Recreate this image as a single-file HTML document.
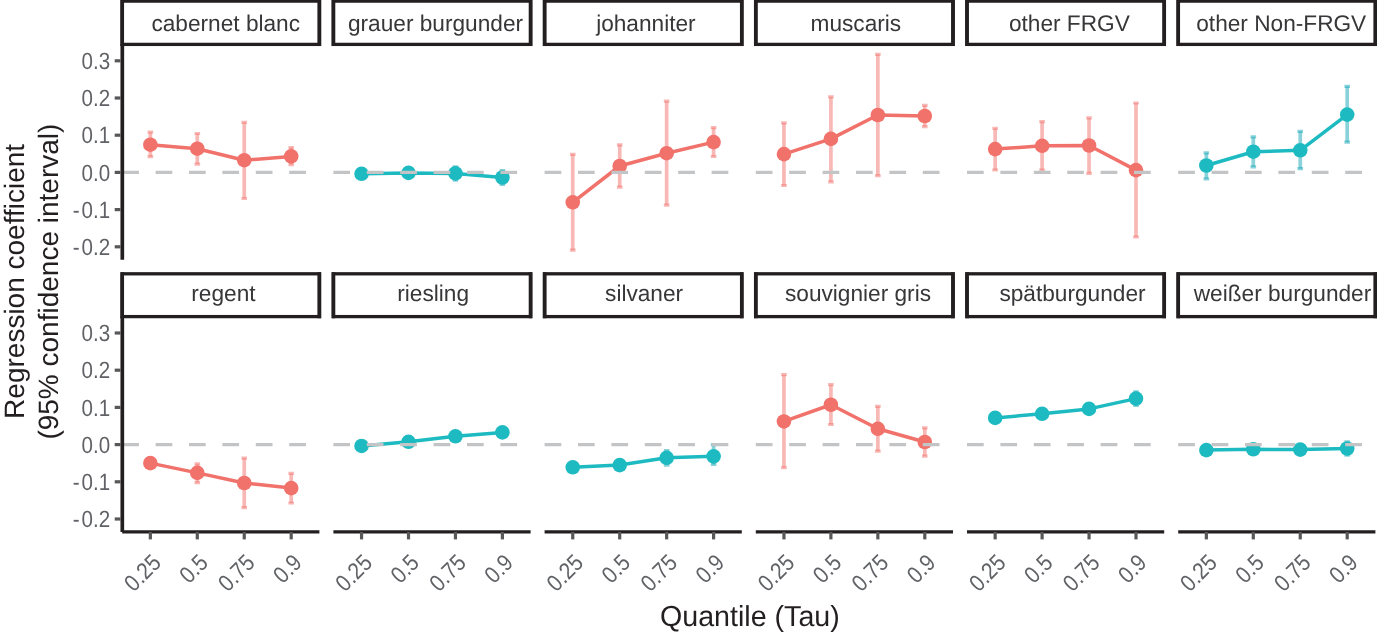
<!DOCTYPE html><html><head><meta charset="utf-8"><title>chart</title><style>
html,body{margin:0;padding:0;background:#fff;}body{width:1377px;height:635px;overflow:hidden;}
svg{display:block;will-change:transform;font-family:"Liberation Sans",sans-serif;text-rendering:geometricPrecision;}
.ax{fill:#606266;font-size:21.33px;}.st{fill:#373739;font-size:22.67px;}.ti{fill:#231F20;font-size:28px;}
</style></head><body>
<svg width="1377" height="635" viewBox="0 0 1377 635">
<rect width="1377" height="635" fill="#fff"/>
<g>
<g stroke="#F1716B" stroke-opacity="0.5" stroke-width="3.7" fill="none"><path d="M150.35 132.20V156.70"/><path d="M147.55 132.20H153.15M147.55 156.70H153.15" stroke-width="3.2"/></g>
<g stroke="#F1716B" stroke-opacity="0.5" stroke-width="3.7" fill="none"><path d="M197.30 133.50V164.20"/><path d="M194.50 133.50H200.10M194.50 164.20H200.10" stroke-width="3.2"/></g>
<g stroke="#F1716B" stroke-opacity="0.5" stroke-width="3.7" fill="none"><path d="M244.25 122.30V198.50"/><path d="M241.45 122.30H247.05M241.45 198.50H247.05" stroke-width="3.2"/></g>
<g stroke="#F1716B" stroke-opacity="0.5" stroke-width="3.7" fill="none"><path d="M291.20 147.50V164.60"/><path d="M288.40 147.50H294.00M288.40 164.60H294.00" stroke-width="3.2"/></g>
<polyline points="150.35,144.70 197.30,148.70 244.25,160.20 291.20,156.40" fill="none" stroke="#F1716B" stroke-width="3.5" stroke-linejoin="round"/>
<circle cx="150.35" cy="144.70" r="7.3" fill="#F1716B"/>
<circle cx="197.30" cy="148.70" r="7.3" fill="#F1716B"/>
<circle cx="244.25" cy="160.20" r="7.3" fill="#F1716B"/>
<circle cx="291.20" cy="156.40" r="7.3" fill="#F1716B"/>
<path d="M122.20 172.40H319.40" stroke="#C3C4C6" stroke-width="3.2" stroke-dasharray="16.7 16.7" fill="none"/>
<rect x="122.20" y="1.10" width="197.20" height="43.30" fill="#fff" stroke="#231F20" stroke-width="3.3"/>
<path d="M122.20 -0.55V46.05M319.40 -0.55V46.05" stroke="#231F20" stroke-width="3.7" fill="none"/>
<text class="st" x="225.75" y="30.90" text-anchor="middle">cabernet blanc</text>
</g>
<g>
<g stroke="#13A5B5" stroke-opacity="0.5" stroke-width="3.7" fill="none"><path d="M455.45 166.90V180.20"/><path d="M452.65 166.90H458.25M452.65 180.20H458.25" stroke-width="3.2"/></g>
<g stroke="#13A5B5" stroke-opacity="0.5" stroke-width="3.7" fill="none"><path d="M502.40 170.60V184.40"/><path d="M499.60 170.60H505.20M499.60 184.40H505.20" stroke-width="3.2"/></g>
<polyline points="361.55,173.80 408.50,172.90 455.45,173.40 502.40,177.50" fill="none" stroke="#1DBBC1" stroke-width="3.5" stroke-linejoin="round"/>
<circle cx="361.55" cy="173.80" r="7.3" fill="#1DBBC1"/>
<circle cx="408.50" cy="172.90" r="7.3" fill="#1DBBC1"/>
<circle cx="455.45" cy="173.40" r="7.3" fill="#1DBBC1"/>
<circle cx="502.40" cy="177.50" r="7.3" fill="#1DBBC1"/>
<path d="M333.40 172.40H530.60" stroke="#C3C4C6" stroke-width="3.2" stroke-dasharray="16.7 16.7" fill="none"/>
<rect x="333.40" y="1.10" width="197.20" height="43.30" fill="#fff" stroke="#231F20" stroke-width="3.3"/>
<path d="M333.40 -0.55V46.05M530.60 -0.55V46.05" stroke="#231F20" stroke-width="3.7" fill="none"/>
<text class="st" x="435.50" y="30.90" text-anchor="middle">grauer burgunder</text>
</g>
<g>
<g stroke="#F1716B" stroke-opacity="0.5" stroke-width="3.7" fill="none"><path d="M572.75 154.30V250.20"/><path d="M569.95 154.30H575.55M569.95 250.20H575.55" stroke-width="3.2"/></g>
<g stroke="#F1716B" stroke-opacity="0.5" stroke-width="3.7" fill="none"><path d="M619.70 144.80V187.20"/><path d="M616.90 144.80H622.50M616.90 187.20H622.50" stroke-width="3.2"/></g>
<g stroke="#F1716B" stroke-opacity="0.5" stroke-width="3.7" fill="none"><path d="M666.65 101.20V205.10"/><path d="M663.85 101.20H669.45M663.85 205.10H669.45" stroke-width="3.2"/></g>
<g stroke="#F1716B" stroke-opacity="0.5" stroke-width="3.7" fill="none"><path d="M713.60 127.60V156.50"/><path d="M710.80 127.60H716.40M710.80 156.50H716.40" stroke-width="3.2"/></g>
<polyline points="572.75,202.30 619.70,166.00 666.65,153.20 713.60,142.10" fill="none" stroke="#F1716B" stroke-width="3.5" stroke-linejoin="round"/>
<circle cx="572.75" cy="202.30" r="7.3" fill="#F1716B"/>
<circle cx="619.70" cy="166.00" r="7.3" fill="#F1716B"/>
<circle cx="666.65" cy="153.20" r="7.3" fill="#F1716B"/>
<circle cx="713.60" cy="142.10" r="7.3" fill="#F1716B"/>
<path d="M544.60 172.40H741.80" stroke="#C3C4C6" stroke-width="3.2" stroke-dasharray="16.7 16.7" fill="none"/>
<rect x="544.60" y="1.10" width="197.20" height="43.30" fill="#fff" stroke="#231F20" stroke-width="3.3"/>
<path d="M544.60 -0.55V46.05M741.80 -0.55V46.05" stroke="#231F20" stroke-width="3.7" fill="none"/>
<text class="st" x="645.90" y="30.90" text-anchor="middle">johanniter</text>
</g>
<g>
<g stroke="#F1716B" stroke-opacity="0.5" stroke-width="3.7" fill="none"><path d="M783.95 122.80V185.50"/><path d="M781.15 122.80H786.75M781.15 185.50H786.75" stroke-width="3.2"/></g>
<g stroke="#F1716B" stroke-opacity="0.5" stroke-width="3.7" fill="none"><path d="M830.90 96.80V181.80"/><path d="M828.10 96.80H833.70M828.10 181.80H833.70" stroke-width="3.2"/></g>
<g stroke="#F1716B" stroke-opacity="0.5" stroke-width="3.7" fill="none"><path d="M877.85 54.40V175.60"/><path d="M875.05 54.40H880.65M875.05 175.60H880.65" stroke-width="3.2"/></g>
<g stroke="#F1716B" stroke-opacity="0.5" stroke-width="3.7" fill="none"><path d="M924.80 105.40V126.60"/><path d="M922.00 105.40H927.60M922.00 126.60H927.60" stroke-width="3.2"/></g>
<polyline points="783.95,154.10 830.90,138.90 877.85,115.00 924.80,116.00" fill="none" stroke="#F1716B" stroke-width="3.5" stroke-linejoin="round"/>
<circle cx="783.95" cy="154.10" r="7.3" fill="#F1716B"/>
<circle cx="830.90" cy="138.90" r="7.3" fill="#F1716B"/>
<circle cx="877.85" cy="115.00" r="7.3" fill="#F1716B"/>
<circle cx="924.80" cy="116.00" r="7.3" fill="#F1716B"/>
<path d="M755.80 172.40H953.00" stroke="#C3C4C6" stroke-width="3.2" stroke-dasharray="16.7 16.7" fill="none"/>
<rect x="755.80" y="1.10" width="197.20" height="43.30" fill="#fff" stroke="#231F20" stroke-width="3.3"/>
<path d="M755.80 -0.55V46.05M953.00 -0.55V46.05" stroke="#231F20" stroke-width="3.7" fill="none"/>
<text class="st" x="855.85" y="30.90" text-anchor="middle">muscaris</text>
</g>
<g>
<g stroke="#F1716B" stroke-opacity="0.5" stroke-width="3.7" fill="none"><path d="M995.15 128.30V170.00"/><path d="M992.35 128.30H997.95M992.35 170.00H997.95" stroke-width="3.2"/></g>
<g stroke="#F1716B" stroke-opacity="0.5" stroke-width="3.7" fill="none"><path d="M1042.10 121.60V170.20"/><path d="M1039.30 121.60H1044.90M1039.30 170.20H1044.90" stroke-width="3.2"/></g>
<g stroke="#F1716B" stroke-opacity="0.5" stroke-width="3.7" fill="none"><path d="M1089.05 117.90V173.30"/><path d="M1086.25 117.90H1091.85M1086.25 173.30H1091.85" stroke-width="3.2"/></g>
<g stroke="#F1716B" stroke-opacity="0.5" stroke-width="3.7" fill="none"><path d="M1136.00 103.00V237.00"/><path d="M1133.20 103.00H1138.80M1133.20 237.00H1138.80" stroke-width="3.2"/></g>
<polyline points="995.15,149.10 1042.10,145.80 1089.05,145.50 1136.00,170.10" fill="none" stroke="#F1716B" stroke-width="3.5" stroke-linejoin="round"/>
<circle cx="995.15" cy="149.10" r="7.3" fill="#F1716B"/>
<circle cx="1042.10" cy="145.80" r="7.3" fill="#F1716B"/>
<circle cx="1089.05" cy="145.50" r="7.3" fill="#F1716B"/>
<circle cx="1136.00" cy="170.10" r="7.3" fill="#F1716B"/>
<path d="M967.00 172.40H1164.20" stroke="#C3C4C6" stroke-width="3.2" stroke-dasharray="16.7 16.7" fill="none"/>
<rect x="967.00" y="1.10" width="197.20" height="43.30" fill="#fff" stroke="#231F20" stroke-width="3.3"/>
<path d="M967.00 -0.55V46.05M1164.20 -0.55V46.05" stroke="#231F20" stroke-width="3.7" fill="none"/>
<text class="st" x="1069.35" y="30.90" text-anchor="middle">other FRGV</text>
</g>
<g>
<g stroke="#13A5B5" stroke-opacity="0.5" stroke-width="3.7" fill="none"><path d="M1206.35 152.80V178.80"/><path d="M1203.55 152.80H1209.15M1203.55 178.80H1209.15" stroke-width="3.2"/></g>
<g stroke="#13A5B5" stroke-opacity="0.5" stroke-width="3.7" fill="none"><path d="M1253.30 136.80V166.90"/><path d="M1250.50 136.80H1256.10M1250.50 166.90H1256.10" stroke-width="3.2"/></g>
<g stroke="#13A5B5" stroke-opacity="0.5" stroke-width="3.7" fill="none"><path d="M1300.25 131.30V168.70"/><path d="M1297.45 131.30H1303.05M1297.45 168.70H1303.05" stroke-width="3.2"/></g>
<g stroke="#13A5B5" stroke-opacity="0.5" stroke-width="3.7" fill="none"><path d="M1347.20 86.40V142.10"/><path d="M1344.40 86.40H1350.00M1344.40 142.10H1350.00" stroke-width="3.2"/></g>
<polyline points="1206.35,165.50 1253.30,151.70 1300.25,150.30 1347.20,114.60" fill="none" stroke="#1DBBC1" stroke-width="3.5" stroke-linejoin="round"/>
<circle cx="1206.35" cy="165.50" r="7.3" fill="#1DBBC1"/>
<circle cx="1253.30" cy="151.70" r="7.3" fill="#1DBBC1"/>
<circle cx="1300.25" cy="150.30" r="7.3" fill="#1DBBC1"/>
<circle cx="1347.20" cy="114.60" r="7.3" fill="#1DBBC1"/>
<path d="M1178.20 172.40H1375.40" stroke="#C3C4C6" stroke-width="3.2" stroke-dasharray="16.7 16.7" fill="none"/>
<rect x="1178.20" y="1.10" width="197.20" height="43.30" fill="#fff" stroke="#231F20" stroke-width="3.3"/>
<path d="M1178.20 -0.55V46.05M1375.40 -0.55V46.05" stroke="#231F20" stroke-width="3.7" fill="none"/>
<text class="st" x="1281.25" y="30.90" text-anchor="middle">other Non-FRGV</text>
</g>
<path d="M122.30 44.40V259.70" stroke="#231F20" stroke-width="3.7"/>
<path d="M120.60 60.80h-5.90" stroke="#58585B" stroke-width="3.2"/>
<text class="ax" text-anchor="end" transform="translate(110.2 68.90) scale(0.965 1.1)">0.3</text>
<path d="M120.60 98.00h-5.90" stroke="#58585B" stroke-width="3.2"/>
<text class="ax" text-anchor="end" transform="translate(110.2 106.10) scale(0.965 1.1)">0.2</text>
<path d="M120.60 135.20h-5.90" stroke="#58585B" stroke-width="3.2"/>
<text class="ax" text-anchor="end" transform="translate(110.2 143.30) scale(0.965 1.1)">0.1</text>
<path d="M120.60 172.40h-5.90" stroke="#58585B" stroke-width="3.2"/>
<text class="ax" text-anchor="end" transform="translate(110.2 180.50) scale(0.965 1.1)">0.0</text>
<path d="M120.60 209.60h-5.90" stroke="#58585B" stroke-width="3.2"/>
<text class="ax" text-anchor="end" transform="translate(110.2 217.70) scale(0.965 1.1)">-<tspan dx="2.1">0.1</tspan></text>
<path d="M120.60 246.80h-5.90" stroke="#58585B" stroke-width="3.2"/>
<text class="ax" text-anchor="end" transform="translate(110.2 254.90) scale(0.965 1.1)">-<tspan dx="2.1">0.2</tspan></text>
<g>
<g stroke="#F1716B" stroke-opacity="0.5" stroke-width="3.7" fill="none"><path d="M197.30 463.80V482.60"/><path d="M194.50 463.80H200.10M194.50 482.60H200.10" stroke-width="3.2"/></g>
<g stroke="#F1716B" stroke-opacity="0.5" stroke-width="3.7" fill="none"><path d="M244.25 458.10V507.70"/><path d="M241.45 458.10H247.05M241.45 507.70H247.05" stroke-width="3.2"/></g>
<g stroke="#F1716B" stroke-opacity="0.5" stroke-width="3.7" fill="none"><path d="M291.20 473.40V503.00"/><path d="M288.40 473.40H294.00M288.40 503.00H294.00" stroke-width="3.2"/></g>
<polyline points="150.35,463.10 197.30,472.90 244.25,483.00 291.20,488.10" fill="none" stroke="#F1716B" stroke-width="3.5" stroke-linejoin="round"/>
<circle cx="150.35" cy="463.10" r="7.3" fill="#F1716B"/>
<circle cx="197.30" cy="472.90" r="7.3" fill="#F1716B"/>
<circle cx="244.25" cy="483.00" r="7.3" fill="#F1716B"/>
<circle cx="291.20" cy="488.10" r="7.3" fill="#F1716B"/>
<path d="M122.20 444.60H319.40" stroke="#C3C4C6" stroke-width="3.2" stroke-dasharray="16.7 16.7" fill="none"/>
<rect x="122.20" y="273.80" width="197.20" height="42.80" fill="#fff" stroke="#231F20" stroke-width="3.3"/>
<path d="M122.20 272.15V318.25M319.40 272.15V318.25" stroke="#231F20" stroke-width="3.7" fill="none"/>
<text class="st" x="223.45" y="301.05" text-anchor="middle">regent</text>
<path d="M122.20 531.90H319.40" stroke="#231F20" stroke-width="3.3"/>
<path d="M150.35 531.90v7.50" stroke="#58585B" stroke-width="3.2"/>
<text class="ax" text-anchor="end" transform="translate(150.65 552.50) rotate(-45) scale(0.97 1.1)" y="15.0">0.25</text>
<path d="M197.30 531.90v7.50" stroke="#58585B" stroke-width="3.2"/>
<text class="ax" text-anchor="end" transform="translate(197.60 552.50) rotate(-45) scale(0.97 1.1)" y="15.0">0.5</text>
<path d="M244.25 531.90v7.50" stroke="#58585B" stroke-width="3.2"/>
<text class="ax" text-anchor="end" transform="translate(244.55 552.50) rotate(-45) scale(0.97 1.1)" y="15.0">0.75</text>
<path d="M291.20 531.90v7.50" stroke="#58585B" stroke-width="3.2"/>
<text class="ax" text-anchor="end" transform="translate(291.50 552.50) rotate(-45) scale(0.97 1.1)" y="15.0">0.9</text>
</g>
<g>
<polyline points="361.55,445.95 408.50,441.80 455.45,436.30 502.40,432.40" fill="none" stroke="#1DBBC1" stroke-width="3.5" stroke-linejoin="round"/>
<circle cx="361.55" cy="445.95" r="7.3" fill="#1DBBC1"/>
<circle cx="408.50" cy="441.80" r="7.3" fill="#1DBBC1"/>
<circle cx="455.45" cy="436.30" r="7.3" fill="#1DBBC1"/>
<circle cx="502.40" cy="432.40" r="7.3" fill="#1DBBC1"/>
<path d="M333.40 444.60H530.60" stroke="#C3C4C6" stroke-width="3.2" stroke-dasharray="16.7 16.7" fill="none"/>
<rect x="333.40" y="273.80" width="197.20" height="42.80" fill="#fff" stroke="#231F20" stroke-width="3.3"/>
<path d="M333.40 272.15V318.25M530.60 272.15V318.25" stroke="#231F20" stroke-width="3.7" fill="none"/>
<text class="st" x="433.10" y="301.05" text-anchor="middle">riesling</text>
<path d="M333.40 531.90H530.60" stroke="#231F20" stroke-width="3.3"/>
<path d="M361.55 531.90v7.50" stroke="#58585B" stroke-width="3.2"/>
<text class="ax" text-anchor="end" transform="translate(361.85 552.50) rotate(-45) scale(0.97 1.1)" y="15.0">0.25</text>
<path d="M408.50 531.90v7.50" stroke="#58585B" stroke-width="3.2"/>
<text class="ax" text-anchor="end" transform="translate(408.80 552.50) rotate(-45) scale(0.97 1.1)" y="15.0">0.5</text>
<path d="M455.45 531.90v7.50" stroke="#58585B" stroke-width="3.2"/>
<text class="ax" text-anchor="end" transform="translate(455.75 552.50) rotate(-45) scale(0.97 1.1)" y="15.0">0.75</text>
<path d="M502.40 531.90v7.50" stroke="#58585B" stroke-width="3.2"/>
<text class="ax" text-anchor="end" transform="translate(502.70 552.50) rotate(-45) scale(0.97 1.1)" y="15.0">0.9</text>
</g>
<g>
<g stroke="#13A5B5" stroke-opacity="0.5" stroke-width="3.7" fill="none"><path d="M666.65 450.60V465.10"/><path d="M663.85 450.60H669.45M663.85 465.10H669.45" stroke-width="3.2"/></g>
<g stroke="#13A5B5" stroke-opacity="0.5" stroke-width="3.7" fill="none"><path d="M713.60 444.60V464.40"/><path d="M710.80 444.60H716.40M710.80 464.40H716.40" stroke-width="3.2"/></g>
<polyline points="572.75,467.30 619.70,465.10 666.65,457.80 713.60,456.30" fill="none" stroke="#1DBBC1" stroke-width="3.5" stroke-linejoin="round"/>
<circle cx="572.75" cy="467.30" r="7.3" fill="#1DBBC1"/>
<circle cx="619.70" cy="465.10" r="7.3" fill="#1DBBC1"/>
<circle cx="666.65" cy="457.80" r="7.3" fill="#1DBBC1"/>
<circle cx="713.60" cy="456.30" r="7.3" fill="#1DBBC1"/>
<path d="M544.60 444.60H741.80" stroke="#C3C4C6" stroke-width="3.2" stroke-dasharray="16.7 16.7" fill="none"/>
<rect x="544.60" y="273.80" width="197.20" height="42.80" fill="#fff" stroke="#231F20" stroke-width="3.3"/>
<path d="M544.60 272.15V318.25M741.80 272.15V318.25" stroke="#231F20" stroke-width="3.7" fill="none"/>
<text class="st" x="644.10" y="301.05" text-anchor="middle">silvaner</text>
<path d="M544.60 531.90H741.80" stroke="#231F20" stroke-width="3.3"/>
<path d="M572.75 531.90v7.50" stroke="#58585B" stroke-width="3.2"/>
<text class="ax" text-anchor="end" transform="translate(573.05 552.50) rotate(-45) scale(0.97 1.1)" y="15.0">0.25</text>
<path d="M619.70 531.90v7.50" stroke="#58585B" stroke-width="3.2"/>
<text class="ax" text-anchor="end" transform="translate(620.00 552.50) rotate(-45) scale(0.97 1.1)" y="15.0">0.5</text>
<path d="M666.65 531.90v7.50" stroke="#58585B" stroke-width="3.2"/>
<text class="ax" text-anchor="end" transform="translate(666.95 552.50) rotate(-45) scale(0.97 1.1)" y="15.0">0.75</text>
<path d="M713.60 531.90v7.50" stroke="#58585B" stroke-width="3.2"/>
<text class="ax" text-anchor="end" transform="translate(713.90 552.50) rotate(-45) scale(0.97 1.1)" y="15.0">0.9</text>
</g>
<g>
<g stroke="#F1716B" stroke-opacity="0.5" stroke-width="3.7" fill="none"><path d="M783.95 374.70V467.60"/><path d="M781.15 374.70H786.75M781.15 467.60H786.75" stroke-width="3.2"/></g>
<g stroke="#F1716B" stroke-opacity="0.5" stroke-width="3.7" fill="none"><path d="M830.90 384.70V424.50"/><path d="M828.10 384.70H833.70M828.10 424.50H833.70" stroke-width="3.2"/></g>
<g stroke="#F1716B" stroke-opacity="0.5" stroke-width="3.7" fill="none"><path d="M877.85 406.40V451.20"/><path d="M875.05 406.40H880.65M875.05 451.20H880.65" stroke-width="3.2"/></g>
<g stroke="#F1716B" stroke-opacity="0.5" stroke-width="3.7" fill="none"><path d="M924.80 427.80V456.20"/><path d="M922.00 427.80H927.60M922.00 456.20H927.60" stroke-width="3.2"/></g>
<polyline points="783.95,421.45 830.90,404.75 877.85,428.80 924.80,442.00" fill="none" stroke="#F1716B" stroke-width="3.5" stroke-linejoin="round"/>
<circle cx="783.95" cy="421.45" r="7.3" fill="#F1716B"/>
<circle cx="830.90" cy="404.75" r="7.3" fill="#F1716B"/>
<circle cx="877.85" cy="428.80" r="7.3" fill="#F1716B"/>
<circle cx="924.80" cy="442.00" r="7.3" fill="#F1716B"/>
<path d="M755.80 444.60H953.00" stroke="#C3C4C6" stroke-width="3.2" stroke-dasharray="16.7 16.7" fill="none"/>
<rect x="755.80" y="273.80" width="197.20" height="42.80" fill="#fff" stroke="#231F20" stroke-width="3.3"/>
<path d="M755.80 272.15V318.25M953.00 272.15V318.25" stroke="#231F20" stroke-width="3.7" fill="none"/>
<text class="st" x="858.00" y="301.05" text-anchor="middle">souvignier gris</text>
<path d="M755.80 531.90H953.00" stroke="#231F20" stroke-width="3.3"/>
<path d="M783.95 531.90v7.50" stroke="#58585B" stroke-width="3.2"/>
<text class="ax" text-anchor="end" transform="translate(784.25 552.50) rotate(-45) scale(0.97 1.1)" y="15.0">0.25</text>
<path d="M830.90 531.90v7.50" stroke="#58585B" stroke-width="3.2"/>
<text class="ax" text-anchor="end" transform="translate(831.20 552.50) rotate(-45) scale(0.97 1.1)" y="15.0">0.5</text>
<path d="M877.85 531.90v7.50" stroke="#58585B" stroke-width="3.2"/>
<text class="ax" text-anchor="end" transform="translate(878.15 552.50) rotate(-45) scale(0.97 1.1)" y="15.0">0.75</text>
<path d="M924.80 531.90v7.50" stroke="#58585B" stroke-width="3.2"/>
<text class="ax" text-anchor="end" transform="translate(925.10 552.50) rotate(-45) scale(0.97 1.1)" y="15.0">0.9</text>
</g>
<g>
<g stroke="#13A5B5" stroke-opacity="0.5" stroke-width="3.7" fill="none"><path d="M1136.00 391.90V405.30"/><path d="M1133.20 391.90H1138.80M1133.20 405.30H1138.80" stroke-width="3.2"/></g>
<polyline points="995.15,417.90 1042.10,413.80 1089.05,408.90 1136.00,398.60" fill="none" stroke="#1DBBC1" stroke-width="3.5" stroke-linejoin="round"/>
<circle cx="995.15" cy="417.90" r="7.3" fill="#1DBBC1"/>
<circle cx="1042.10" cy="413.80" r="7.3" fill="#1DBBC1"/>
<circle cx="1089.05" cy="408.90" r="7.3" fill="#1DBBC1"/>
<circle cx="1136.00" cy="398.60" r="7.3" fill="#1DBBC1"/>
<path d="M967.00 444.60H1164.20" stroke="#C3C4C6" stroke-width="3.2" stroke-dasharray="16.7 16.7" fill="none"/>
<rect x="967.00" y="273.80" width="197.20" height="42.80" fill="#fff" stroke="#231F20" stroke-width="3.3"/>
<path d="M967.00 272.15V318.25M1164.20 272.15V318.25" stroke="#231F20" stroke-width="3.7" fill="none"/>
<text class="st" x="1072.50" y="301.05" text-anchor="middle">spätburgunder</text>
<path d="M967.00 531.90H1164.20" stroke="#231F20" stroke-width="3.3"/>
<path d="M995.15 531.90v7.50" stroke="#58585B" stroke-width="3.2"/>
<text class="ax" text-anchor="end" transform="translate(995.45 552.50) rotate(-45) scale(0.97 1.1)" y="15.0">0.25</text>
<path d="M1042.10 531.90v7.50" stroke="#58585B" stroke-width="3.2"/>
<text class="ax" text-anchor="end" transform="translate(1042.40 552.50) rotate(-45) scale(0.97 1.1)" y="15.0">0.5</text>
<path d="M1089.05 531.90v7.50" stroke="#58585B" stroke-width="3.2"/>
<text class="ax" text-anchor="end" transform="translate(1089.35 552.50) rotate(-45) scale(0.97 1.1)" y="15.0">0.75</text>
<path d="M1136.00 531.90v7.50" stroke="#58585B" stroke-width="3.2"/>
<text class="ax" text-anchor="end" transform="translate(1136.30 552.50) rotate(-45) scale(0.97 1.1)" y="15.0">0.9</text>
</g>
<g>
<g stroke="#13A5B5" stroke-opacity="0.5" stroke-width="3.7" fill="none"><path d="M1347.20 441.80V455.20"/><path d="M1344.40 441.80H1350.00M1344.40 455.20H1350.00" stroke-width="3.2"/></g>
<polyline points="1206.35,450.10 1253.30,449.30 1300.25,449.60 1347.20,448.50" fill="none" stroke="#1DBBC1" stroke-width="3.5" stroke-linejoin="round"/>
<circle cx="1206.35" cy="450.10" r="7.3" fill="#1DBBC1"/>
<circle cx="1253.30" cy="449.30" r="7.3" fill="#1DBBC1"/>
<circle cx="1300.25" cy="449.60" r="7.3" fill="#1DBBC1"/>
<circle cx="1347.20" cy="448.50" r="7.3" fill="#1DBBC1"/>
<path d="M1178.20 444.60H1375.40" stroke="#C3C4C6" stroke-width="3.2" stroke-dasharray="16.7 16.7" fill="none"/>
<rect x="1178.20" y="273.80" width="197.20" height="42.80" fill="#fff" stroke="#231F20" stroke-width="3.3"/>
<path d="M1178.20 272.15V318.25M1375.40 272.15V318.25" stroke="#231F20" stroke-width="3.7" fill="none"/>
<text class="st" x="1282.50" y="301.05" text-anchor="middle">weißer burgunder</text>
<path d="M1178.20 531.90H1375.40" stroke="#231F20" stroke-width="3.3"/>
<path d="M1206.35 531.90v7.50" stroke="#58585B" stroke-width="3.2"/>
<text class="ax" text-anchor="end" transform="translate(1206.65 552.50) rotate(-45) scale(0.97 1.1)" y="15.0">0.25</text>
<path d="M1253.30 531.90v7.50" stroke="#58585B" stroke-width="3.2"/>
<text class="ax" text-anchor="end" transform="translate(1253.60 552.50) rotate(-45) scale(0.97 1.1)" y="15.0">0.5</text>
<path d="M1300.25 531.90v7.50" stroke="#58585B" stroke-width="3.2"/>
<text class="ax" text-anchor="end" transform="translate(1300.55 552.50) rotate(-45) scale(0.97 1.1)" y="15.0">0.75</text>
<path d="M1347.20 531.90v7.50" stroke="#58585B" stroke-width="3.2"/>
<text class="ax" text-anchor="end" transform="translate(1347.50 552.50) rotate(-45) scale(0.97 1.1)" y="15.0">0.9</text>
</g>
<path d="M122.30 316.60V531.90" stroke="#231F20" stroke-width="3.7"/>
<path d="M120.60 333.00h-5.90" stroke="#58585B" stroke-width="3.2"/>
<text class="ax" text-anchor="end" transform="translate(110.2 341.10) scale(0.965 1.1)">0.3</text>
<path d="M120.60 370.20h-5.90" stroke="#58585B" stroke-width="3.2"/>
<text class="ax" text-anchor="end" transform="translate(110.2 378.30) scale(0.965 1.1)">0.2</text>
<path d="M120.60 407.40h-5.90" stroke="#58585B" stroke-width="3.2"/>
<text class="ax" text-anchor="end" transform="translate(110.2 415.50) scale(0.965 1.1)">0.1</text>
<path d="M120.60 444.60h-5.90" stroke="#58585B" stroke-width="3.2"/>
<text class="ax" text-anchor="end" transform="translate(110.2 452.70) scale(0.965 1.1)">0.0</text>
<path d="M120.60 481.80h-5.90" stroke="#58585B" stroke-width="3.2"/>
<text class="ax" text-anchor="end" transform="translate(110.2 489.90) scale(0.965 1.1)">-<tspan dx="2.1">0.1</tspan></text>
<path d="M120.60 519.00h-5.90" stroke="#58585B" stroke-width="3.2"/>
<text class="ax" text-anchor="end" transform="translate(110.2 527.10) scale(0.965 1.1)">-<tspan dx="2.1">0.2</tspan></text>
<text class="ti" text-anchor="middle" transform="translate(24.2 281.4) rotate(-90)">Regression coefficient</text>
<text class="ti" text-anchor="middle" transform="translate(57.9 281.65) rotate(-90)">(95% confidence interval)</text>
<text class="ti" text-anchor="middle" transform="translate(749.9 625.7) scale(1.022 1.03)">Quantile (Tau)</text>
</svg></body></html>
